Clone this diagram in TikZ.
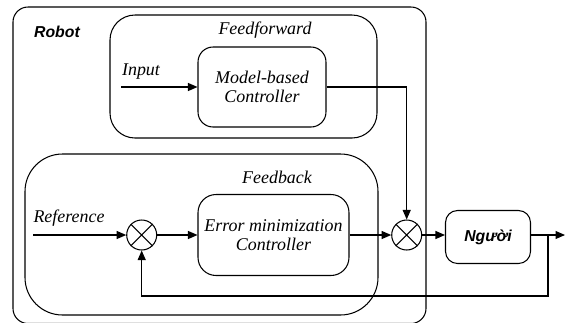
\documentclass[tikz,border=0pt]{standalone}
\usepackage{fontspec}
\setmainfont{Liberation Serif}
\setsansfont{Liberation Sans}
\usetikzlibrary{positioning, arrows.meta, fit, calc}
\tikzset{ctrl/.style={draw, rounded corners=0.3cm, align=center, inner sep=0pt, font=\fontsize{10.2}{11.2}\selectfont\itshape}}
\tikzset{sumc/.style={circle, draw, inner sep=0pt, minimum size=0.6cm}}
\tikzset{grp/.style={draw, inner sep=0pt}}
\tikzset{lbl/.style={font=\fontsize{10.2}{11.2}\selectfont\itshape}}
\tikzset{sflbl/.style={font=\fontsize{9}{10}\selectfont\sffamily\bfseries\itshape}}

\begin{document}
\begin{tikzpicture}[x=0.02cm, y=-0.02cm, line width=0.6pt, arr/.style={-{Triangle[length=0.19cm, width=0.16cm]}}]
    
            \path[use as bounding box, clip] (0,0) rectangle (565,322);
            
            \node[grp, rounded corners=0.3cm, fit={(13,7)(426,323.5)}] (robot) {};
            \node[grp, rounded corners=0.5cm, fit={(110,15)(377,138)}] (ffwd) {};
            \node[grp, rounded corners=0.75cm, fit={(25,154)(378,315)}] (fbk) {};
            
            \node[sflbl] (robotlbl) at (57,32) {Robot};
            \node[lbl] (ffwdlbl) at (265,30) {Feedforward};
            \node[lbl] (fbklbl) at (277,177) {Feedback};
        
            \node[ctrl, minimum width=2.56cm, minimum height=1.6cm] (mbc) at (262,87) {Model-based\\Controller};
            \node[ctrl, rounded corners=0.36cm, minimum width=3.02cm, minimum height=1.62cm] (emc) at (273.5,235) {Error minimization\\Controller};
            \node[sumc] (s1) at (141.7,235) {};
            \node[sumc] (s2) at (406.7,235) {};
            \node[ctrl, rounded corners=0.24cm, minimum width=1.7cm, minimum height=1.06cm, font=\fontsize{9}{10}\selectfont\sffamily\bfseries\itshape] (ng) at (488,237) {Người};
            
            \coordinate (in) at (121,87);
            \coordinate (ref) at (33,235);
            \coordinate (br) at (548,235);
            \coordinate (out) at (565,235);
            \coordinate (fb) at (548,296);
            
            \node[lbl] (inlbl) at (141,72) {Input};
            \node[lbl] (reflbl) at (69,218) {Reference};
            
            \draw (s1.45) -- (s1.225) (s1.135) -- (s1.315);
            \draw (s2.45) -- (s2.225) (s2.135) -- (s2.315);
            
            \draw[arr] (in) -- (mbc);
            \draw[arr] (mbc.east) -| (s2);
            \draw[arr] (ref) -- (s1);
            \draw[arr] (s1) -- (emc);
            \draw[arr] (emc.east |- s2) -- (s2);
            \draw[arr] (s2) -- (s2 -| ng.west);
            \draw[arr] (ng.east |- br) -- (out);
            \draw[arr] (br) -- (fb) -| (s1);
            
        \end{tikzpicture}
\end{document}
